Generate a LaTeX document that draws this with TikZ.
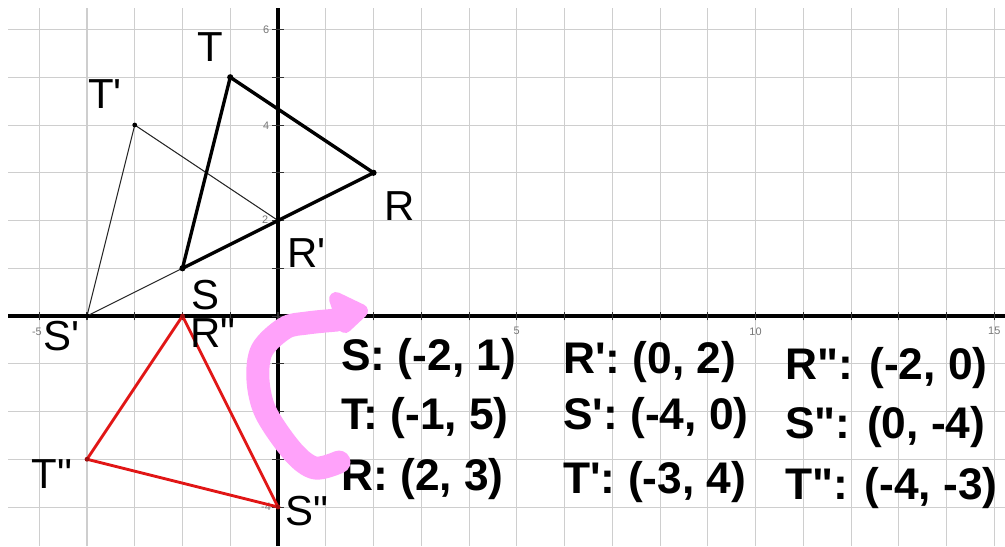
\documentclass[tikz,border=0pt]{standalone}
\usepackage{fontspec}
\setmainfont{Liberation Sans}[Ligatures=TeXOff]
\definecolor{gridgray}{RGB}{206,206,206}
\definecolor{pinkpen}{RGB}{255,162,250}
\definecolor{redtri}{RGB}{225,22,22}
\definecolor{tickgray}{RGB}{120,120,120}
\tikzset{
  gridline/.style={draw=gridgray, line width=0.6pt},
  axisline/.style={draw=black, line width=2.3pt},
  tickmark/.style={draw=black!80, line width=0.6pt},
  ticklabel/.style={inner sep=0pt, text=tickgray, font=\fontsize{6.5}{8}\selectfont},
  ptlabel/.style={anchor=base west, inner sep=0pt, font=\fontsize{25}{30}\selectfont},
  coordtext/.style={anchor=base west, inner sep=0pt, font=\fontsize{26.4}{32}\selectfont\bfseries},
  origtri/.style={draw=black, line width=2pt, line join=round},
  firsttri/.style={draw=black!85, line width=0.6pt, line join=round},
  secondtri/.style={draw=redtri, line width=1.7pt, line join=round},
  pinkstroke/.style={draw=pinkpen, line width=13.7pt, line cap=round, line join=round},
  pinkhead/.style={draw=pinkpen, fill=pinkpen, line width=8.3pt, line join=round}
}
\begin{document}
\begin{tikzpicture}[x=1cm,y=1cm]
\useasboundingbox[fill=white] (-5.822,-4.817) rectangle (15.225,6.618);
% grid
\foreach \i in {-5,...,15} \draw[gridline] (\i,-4.817) -- (\i,6.45);
\foreach \j in {-4,...,6} \draw[gridline] (-5.654,\j) -- (15.225,\j);
% axes
\draw[axisline] (-5.654,0) -- (15.225,0);
\draw[axisline] (0,-4.817) -- (0,6.45);
\foreach \i in {-5,...,15} \draw[tickmark] (\i,-0.09) -- (\i,0.09);
\foreach \j in {-4,...,6} \draw[tickmark] (-0.12,\j) -- (0.12,\j);
% tick labels
\node[ticklabel] (t6) at (-0.25,6.0) {6};
\node[ticklabel] (t4) at (-0.25,3.98) {4};
\node[ticklabel] (t2) at (-0.27,2.01) {2};
\node[ticklabel] (tm4) at (-0.25,-4.0) {-4};
\node[ticklabel] (tm5) at (-5.05,-0.335) {-5};
\node[ticklabel] (t5) at (5.0,-0.32) {5};
\node[ticklabel] (t10) at (10.0,-0.32) {10};
\node[ticklabel] (t15) at (15.0,-0.32) {15};
% vertices
\coordinate (S) at (-2,1);
\coordinate (T) at (-1,5);
\coordinate (R) at (2,3);
\coordinate (S1) at (-4,0);
\coordinate (T1) at (-3,4);
\coordinate (R1) at (0,2);
\coordinate (R2) at (-2,0);
\coordinate (S2) at (0,-4);
\coordinate (T2) at (-4,-3);
% triangles
\draw[firsttri] (S1) -- (T1) -- (R1) -- cycle;
\draw[origtri] (S) -- (T) -- (R) -- cycle;
\draw[secondtri] (R2) -- (S2) -- (T2) -- cycle;
\foreach \p in {S,T,R} \fill[black] (\p) circle (0.065);
\foreach \p in {S1,T1,R1} \fill[black] (\p) circle (0.05);
\foreach \p in {R2,S2,T2} \fill[redtri!70!black] (\p) circle (0.05);
% point labels
\node[ptlabel] (lT) at (-1.70,5.340) {T};
\node[ptlabel] (lT1) at (-3.98,4.356) {T'};
\node[ptlabel] (lR) at (2.22,2.010) {R};
\node[ptlabel] (lR1) at (0.19,1.026) {R'};
\node[ptlabel] (lS) at (-1.82,0.126) {S};
\node[ptlabel] (lS1) at (-4.92,-0.712) {S'};
\node[ptlabel] (lR2) at (-1.84,-0.670) {R"};
\node[ptlabel] (lT2) at (-5.17,-3.602) {T"};
\node[ptlabel] (lS2) at (0.15,-4.377) {S"};
% coordinate lists
\node[coordtext] (cS) at (1.319,-1.131) {S: (-2, 1)};
\node[coordtext] (cT) at (1.319,-2.387) {T: (-1, 5)};
\node[coordtext] (cR) at (1.319,-3.644) {R: (2, 3)};
\node[coordtext] (cR1) at (5.969,-1.194) {R': (0, 2)};
\node[coordtext] (cS1) at (5.969,-2.387) {S': (-4, 0)};
\node[coordtext] (cT1) at (5.969,-3.707) {T': (-3, 4)};
\node[coordtext] (cR2) at (10.618,-1.340) {R": (-2, 0)};
\node[coordtext] (cS2) at (10.618,-2.555) {S": (0, -4)};
\node[coordtext] (cT2) at (10.618,-3.853) {T": (-4, -3)};
% pink hand-drawn arrow
\coordinate (pstart) at (1.277,-3.058);
\coordinate (pend) at (1.236,-0.084);
\draw[pinkstroke] plot[smooth, tension=0.55] coordinates {
  (1.277,-3.058) (0.775,-3.183) (0.314,-2.848) (-0.251,-2.031)
  (-0.419,-1.340) (-0.335,-0.712) (0.147,-0.251) (0.607,-0.147) (1.236,-0.084)};
\coordinate (h1) at (1.215,0.356);
\coordinate (h2) at (1.738,0.105);
\coordinate (h3) at (1.403,-0.209);
\filldraw[pinkhead] (h1) -- (h2) -- (h3) -- cycle;
\end{tikzpicture}
\end{document}
